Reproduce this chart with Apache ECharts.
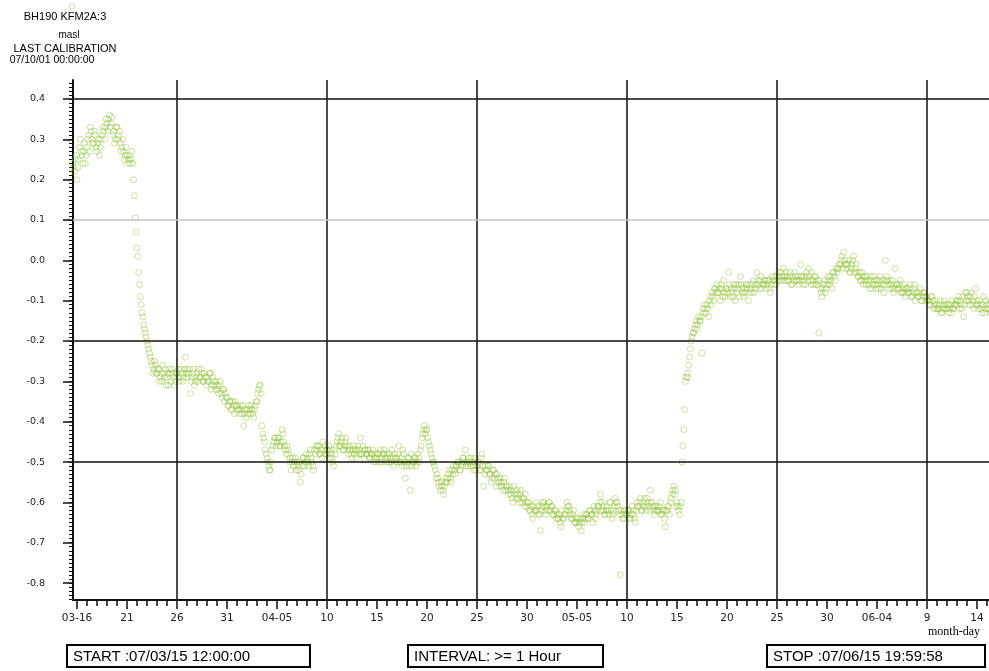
<!DOCTYPE html>
<html>
<head>
<meta charset="utf-8">
<script src="https://cdn.jsdelivr.net/npm/echarts@6/dist/echarts.min.js"></script>
<style>
  html, body { margin: 0; padding: 0; background: #fff; overflow: hidden; }
  #chart { width: 989px; height: 671px; }
</style>
</head>
<body>
<div id="chart"></div>
<script>
// BH190 KFM2A:3 groundwater level (masl), 2-hourly readings.
// Time is measured in days from 2007-03-16 00:00.
// Each month is kept as two blocks: even hours (00,04,..,20) and odd-offset hours (02,06,..,22).
const readingStepDays = 4 / 24;
const oddOffsetDays = 2 / 24;

// 03-15 12:00 .. 03-31 20:00
const marchStart = -0.5;
const marchLevels = [
  0.63, 0.23, 0.25,
  0.20, 0.25, 0.30, 0.26, 0.27, 0.24,
  0.28, 0.31, 0.33, 0.30, 0.29, 0.31,
  0.27, 0.30, 0.28, 0.31, 0.32, 0.33,
  0.34, 0.35, 0.33, 0.355, 0.32, 0.30,
  0.33, 0.31, 0.29, 0.28, 0.27, 0.26,
  0.26, 0.25, 0.24, 0.27, 0.20, 0.105,
  0.03, -0.03, -0.09, -0.13, -0.16, -0.18,
  -0.20, -0.22, -0.24, -0.26, -0.27, -0.26,
  -0.28, -0.27, -0.29, -0.30, -0.28, -0.27,
  -0.29, -0.31, -0.28, -0.27, -0.29, -0.30,
  -0.28, -0.27, -0.29, -0.28, -0.29, -0.24,
  -0.27, -0.28, -0.33, -0.29, -0.27, -0.30,
  -0.28, -0.27, -0.29, -0.28, -0.30, -0.29,
  -0.29, -0.30, -0.28, -0.31, -0.30, -0.32,
  -0.31, -0.33, -0.30, -0.34, -0.32, -0.33,
  -0.34, -0.36, -0.35, -0.37, -0.36, -0.35
];
const marchLevelsOdd = [
  0.24, 0.22, 0.26,
  0.23, 0.28, 0.27, 0.24, 0.29, 0.26,
  0.30, 0.27, 0.32, 0.29, 0.32, 0.28,
  0.29, 0.26, 0.30, 0.33, 0.30, 0.35,
  0.32, 0.36, 0.34, 0.31, 0.29, 0.33,
  0.30, 0.32, 0.27, 0.30, 0.25, 0.28,
  0.24, 0.26, 0.25, 0.24, 0.16, 0.07,
  0.01, -0.06, -0.11, -0.14, -0.17, -0.19,
  -0.21, -0.23, -0.25, -0.28, -0.25, -0.28,
  -0.27, -0.30, -0.28, -0.26, -0.29, -0.31,
  -0.28, -0.27, -0.30, -0.28, -0.31, -0.28,
  -0.29, -0.30, -0.27, -0.30, -0.27, -0.28,
  -0.29, -0.27, -0.30, -0.28, -0.31, -0.29,
  -0.30, -0.29, -0.27, -0.30, -0.28, -0.31,
  -0.30, -0.28, -0.32, -0.29, -0.31, -0.30,
  -0.32, -0.31, -0.33, -0.32, -0.35, -0.34,
  -0.36, -0.35, -0.37, -0.35, -0.38, -0.36
];

// 04-01 00:00 .. 04-30 22:00
const aprilStart = 16;
const aprilLevels = [
  -0.36, -0.37, -0.36, -0.38, -0.41, -0.37,
  -0.37, -0.36, -0.38, -0.37, -0.39, -0.36,
  -0.35, -0.32, -0.31, -0.41, -0.44, -0.47,
  -0.49, -0.51, -0.52, -0.47, -0.45, -0.44,
  -0.45, -0.44, -0.46, -0.42, -0.45, -0.47,
  -0.46, -0.48, -0.49, -0.50, -0.51, -0.49,
  -0.50, -0.52, -0.55, -0.51, -0.49, -0.50,
  -0.49, -0.51, -0.47, -0.50, -0.52, -0.48,
  -0.47, -0.46, -0.48, -0.49, -0.47, -0.46,
  -0.48, -0.46, -0.47, -0.49, -0.51, -0.48,
  -0.45, -0.43, -0.46, -0.44, -0.47, -0.45,
  -0.46, -0.48, -0.47, -0.49, -0.46, -0.47,
  -0.47, -0.48, -0.44, -0.48, -0.49, -0.47,
  -0.48, -0.47, -0.49, -0.48, -0.50, -0.48,
  -0.49, -0.48, -0.47, -0.50, -0.48, -0.49,
  -0.48, -0.50, -0.49, -0.47, -0.51, -0.49,
  -0.49, -0.46, -0.50, -0.51, -0.48, -0.54,
  -0.50, -0.49, -0.57, -0.51, -0.50, -0.49,
  -0.50, -0.49, -0.47, -0.44, -0.42, -0.43,
  -0.42, -0.45, -0.47, -0.49, -0.50, -0.52,
  -0.53, -0.55, -0.57, -0.56, -0.58, -0.55,
  -0.55, -0.53, -0.54, -0.52, -0.51, -0.53,
  -0.51, -0.50, -0.52, -0.50, -0.49, -0.47,
  -0.50, -0.49, -0.51, -0.50, -0.52, -0.49,
  -0.51, -0.50, -0.52, -0.48, -0.56, -0.51,
  -0.52, -0.51, -0.53, -0.54, -0.52, -0.53,
  -0.53, -0.55, -0.54, -0.56, -0.55, -0.57,
  -0.56, -0.58, -0.57, -0.59, -0.56, -0.58,
  -0.57, -0.59, -0.58, -0.60, -0.59, -0.58,
  -0.61, -0.60, -0.62, -0.63, -0.61, -0.62
];
const aprilLevelsOdd = [
  -0.37, -0.38, -0.37, -0.36, -0.38, -0.39,
  -0.38, -0.37, -0.36, -0.38, -0.37, -0.35,
  -0.33, -0.31, -0.33, -0.43, -0.45, -0.48,
  -0.50, -0.52, -0.50, -0.46, -0.44, -0.46,
  -0.44, -0.46, -0.45, -0.43, -0.46, -0.48,
  -0.47, -0.50, -0.52, -0.49, -0.50, -0.52,
  -0.51, -0.50, -0.53, -0.49, -0.51, -0.48,
  -0.50, -0.48, -0.49, -0.51, -0.47, -0.46,
  -0.46, -0.48, -0.47, -0.45, -0.48, -0.47,
  -0.47, -0.49, -0.48, -0.50, -0.47, -0.46,
  -0.44, -0.46, -0.45, -0.47, -0.46, -0.44,
  -0.47, -0.46, -0.48, -0.47, -0.48, -0.49,
  -0.46, -0.47, -0.48, -0.46, -0.47, -0.48,
  -0.47, -0.49, -0.48, -0.47, -0.49, -0.50,
  -0.48, -0.50, -0.49, -0.48, -0.47, -0.50,
  -0.49, -0.48, -0.50, -0.49, -0.48, -0.50,
  -0.48, -0.50, -0.49, -0.47, -0.50, -0.51,
  -0.49, -0.51, -0.48, -0.50, -0.49, -0.51,
  -0.48, -0.50, -0.46, -0.43, -0.41, -0.42,
  -0.44, -0.46, -0.48, -0.50, -0.51, -0.54,
  -0.54, -0.56, -0.55, -0.57, -0.56, -0.54,
  -0.54, -0.52, -0.55, -0.53, -0.52, -0.51,
  -0.50, -0.52, -0.51, -0.49, -0.50, -0.51,
  -0.51, -0.50, -0.49, -0.51, -0.50, -0.52,
  -0.50, -0.52, -0.49, -0.51, -0.53, -0.52,
  -0.51, -0.53, -0.55, -0.52, -0.54, -0.56,
  -0.54, -0.56, -0.55, -0.57, -0.54, -0.56,
  -0.57, -0.56, -0.58, -0.60, -0.57, -0.59,
  -0.58, -0.60, -0.57, -0.59, -0.61, -0.60,
  -0.60, -0.62, -0.61, -0.64, -0.62, -0.60
];

// 05-01 00:00 .. 05-31 22:00
const mayStart = 46;
const mayLevels = [
  -0.62, -0.63, -0.67, -0.61, -0.60, -0.62,
  -0.61, -0.60, -0.62, -0.61, -0.63, -0.62,
  -0.63, -0.64, -0.65, -0.62, -0.64, -0.63,
  -0.60, -0.61, -0.63, -0.64, -0.62, -0.65,
  -0.65, -0.66, -0.64, -0.65, -0.63, -0.64,
  -0.63, -0.64, -0.62, -0.63, -0.61, -0.64,
  -0.62, -0.61, -0.58, -0.60, -0.62, -0.63,
  -0.61, -0.63, -0.60, -0.64, -0.62, -0.59,
  -0.60, -0.62, -0.78, -0.63, -0.64, -0.62,
  -0.63, -0.62, -0.64, -0.61, -0.63, -0.65,
  -0.60, -0.61, -0.59, -0.62, -0.60, -0.61,
  -0.59, -0.61, -0.57, -0.60, -0.62, -0.61,
  -0.61, -0.62, -0.60, -0.63, -0.62, -0.66,
  -0.62, -0.61, -0.60, -0.58, -0.56, -0.57,
  -0.60, -0.62, -0.61, -0.50, -0.42, -0.30,
  -0.28, -0.26, -0.22, -0.19, -0.18, -0.16,
  -0.17, -0.14, -0.15, -0.23, -0.13, -0.12,
  -0.11, -0.14, -0.09, -0.08, -0.10, -0.07,
  -0.06, -0.08, -0.10, -0.07, -0.05, -0.09,
  -0.07, -0.03, -0.09, -0.08, -0.06, -0.10,
  -0.08, -0.06, -0.04, -0.07, -0.09, -0.08,
  -0.07, -0.10, -0.06, -0.08, -0.05, -0.07,
  -0.03, -0.06, -0.05, -0.07, -0.06, -0.05,
  -0.06, -0.05, -0.08, -0.04, -0.06, -0.05,
  -0.04, -0.03, -0.05, -0.04, -0.02, -0.05,
  -0.04, -0.05, -0.03, -0.06, -0.05, -0.04,
  -0.05, -0.06, -0.01, -0.04, -0.05, -0.06,
  -0.04, -0.02, -0.05, -0.03, -0.06, -0.04,
  -0.05, -0.18, -0.07, -0.09, -0.06, -0.08,
  -0.06, -0.05, -0.04, -0.07, -0.03, -0.05,
  -0.03, -0.02, -0.01, 0.01, 0.02, -0.01
];
const mayLevelsOdd = [
  -0.61, -0.63, -0.62, -0.60, -0.61, -0.63,
  -0.62, -0.60, -0.61, -0.63, -0.62, -0.64,
  -0.64, -0.63, -0.66, -0.64, -0.63, -0.62,
  -0.61, -0.62, -0.64, -0.63, -0.65, -0.64,
  -0.64, -0.65, -0.67, -0.64, -0.65, -0.63,
  -0.64, -0.62, -0.63, -0.65, -0.62, -0.63,
  -0.61, -0.60, -0.62, -0.61, -0.63, -0.62,
  -0.62, -0.60, -0.62, -0.63, -0.61, -0.60,
  -0.61, -0.63, -0.62, -0.64, -0.62, -0.63,
  -0.62, -0.64, -0.63, -0.62, -0.64, -0.62,
  -0.61, -0.60, -0.62, -0.61, -0.59, -0.62,
  -0.60, -0.62, -0.60, -0.61, -0.63, -0.62,
  -0.62, -0.61, -0.63, -0.62, -0.64, -0.62,
  -0.61, -0.63, -0.59, -0.57, -0.58, -0.61,
  -0.61, -0.63, -0.60, -0.46, -0.37, -0.29,
  -0.29, -0.24, -0.20, -0.18, -0.17, -0.15,
  -0.16, -0.15, -0.14, -0.12, -0.11, -0.13,
  -0.12, -0.10, -0.11, -0.09, -0.07, -0.08,
  -0.08, -0.07, -0.06, -0.09, -0.08, -0.07,
  -0.08, -0.06, -0.07, -0.09, -0.07, -0.06,
  -0.07, -0.09, -0.06, -0.08, -0.07, -0.06,
  -0.06, -0.08, -0.07, -0.06, -0.08, -0.06,
  -0.05, -0.07, -0.04, -0.06, -0.05, -0.07,
  -0.05, -0.07, -0.06, -0.05, -0.04, -0.06,
  -0.05, -0.04, -0.03, -0.05, -0.04, -0.03,
  -0.05, -0.04, -0.06, -0.04, -0.03, -0.05,
  -0.04, -0.05, -0.04, -0.06, -0.04, -0.03,
  -0.05, -0.04, -0.06, -0.05, -0.04, -0.06,
  -0.06, -0.05, -0.08, -0.07, -0.05, -0.07,
  -0.04, -0.06, -0.05, -0.03, -0.04, -0.02,
  -0.02, -0.01, 0.00, -0.02, 0.00, -0.01
];

// 06-01 00:00 .. 06-15 20:00
const juneStart = 77;
const juneLevels = [
  -0.02, 0.00, -0.03, -0.01, 0.01, -0.02,
  -0.03, -0.04, -0.05, -0.03, -0.06, -0.04,
  -0.04, -0.06, -0.05, -0.07, -0.04, -0.06,
  -0.05, -0.07, -0.04, -0.06, -0.08, 0.00,
  -0.04, -0.06, -0.05, -0.07, -0.08, -0.02,
  -0.06, -0.07, -0.05, -0.08, -0.06, -0.09,
  -0.07, -0.08, -0.06, -0.09, -0.07, -0.10,
  -0.08, -0.09, -0.07, -0.10, -0.08, -0.09,
  -0.09, -0.10, -0.11, -0.09, -0.12, -0.10,
  -0.11, -0.12, -0.10, -0.13, -0.11, -0.12,
  -0.12, -0.13, -0.11, -0.10, -0.12, -0.11,
  -0.11, -0.09, -0.10, -0.12, -0.14, -0.08,
  -0.08, -0.10, -0.09, -0.11, -0.12, -0.07,
  -0.10, -0.12, -0.11, -0.13, -0.09, -0.12,
  -0.11, -0.12, -0.13, -0.10, -0.12, -0.11
];
const juneLevelsOdd = [
  -0.01, -0.03, -0.02, 0.00, -0.03, -0.01,
  -0.04, -0.03, -0.05, -0.04, -0.05, -0.06,
  -0.05, -0.07, -0.04, -0.06, -0.05, -0.07,
  -0.06, -0.05, -0.07, -0.05, -0.06, -0.05,
  -0.05, -0.07, -0.06, -0.05, -0.07, -0.06,
  -0.07, -0.06, -0.08, -0.07, -0.08, -0.07,
  -0.08, -0.07, -0.09, -0.08, -0.06, -0.08,
  -0.09, -0.08, -0.10, -0.09, -0.08, -0.10,
  -0.10, -0.11, -0.09, -0.10, -0.11, -0.12,
  -0.12, -0.11, -0.13, -0.12, -0.10, -0.11,
  -0.11, -0.12, -0.13, -0.12, -0.11, -0.10,
  -0.10, -0.12, -0.11, -0.09, -0.11, -0.10,
  -0.09, -0.11, -0.08, -0.10, -0.09, -0.11,
  -0.11, -0.10, -0.12, -0.11, -0.13, -0.10,
  -0.12, -0.11, -0.10, -0.12, -0.11
];

// Axis ranges and ticks
const xMin = -0.4;
const xMax = 91.833;        // 06-15 20:00
const yMin = -0.842;
const yMax = 0.447;
const xTickDays = [0, 5, 10, 15, 20, 25, 30, 35, 40, 45, 50, 55, 60, 65, 70, 75, 80, 85, 90];
const xTickLabels = ['03-16', '21', '26', '31', '04-05', '10', '15', '20', '25', '30',
                     '05-05', '10', '15', '20', '25', '30', '06-04', '9', '14'];
const yTickValues = [-0.8, -0.7, -0.6, -0.5, -0.4, -0.3, -0.2, -0.1, 0, 0.1, 0.2, 0.3, 0.4];
const dayGridLines = [10, 25, 40, 55, 70, 85];
const levelGridLines = [0.4, -0.2, -0.5];
const faintLevelLines = [0.1];

// Build [day, level] pairs from the reading blocks
function toPoints(start, levels) {
  return levels.map((v, i) => [start + i * readingStepDays, v]);
}
const points = [].concat(
  toPoints(marchStart, marchLevels),
  toPoints(marchStart + oddOffsetDays, marchLevelsOdd),
  toPoints(aprilStart, aprilLevels),
  toPoints(aprilStart + oddOffsetDays, aprilLevelsOdd),
  toPoints(mayStart, mayLevels),
  toPoints(mayStart + oddOffsetDays, mayLevelsOdd),
  toPoints(juneStart, juneLevels),
  toPoints(juneStart + oddOffsetDays, juneLevelsOdd)
);

const minorDayTicks = [];
for (let d = 0; d <= 91; d++) minorDayTicks.push(d);
const minorLevelTicks = [];
for (let k = -84; k <= 44; k++) minorLevelTicks.push(k / 100);

const labelFont = 'Liberation Sans';
const tickFont = 'DejaVu Sans';
const xLabelMap = {};
xTickDays.forEach((d, i) => { xLabelMap[d] = xTickLabels[i]; });

const chart = echarts.init(document.getElementById('chart'), null, { renderer: 'canvas' });

const black = '#111';
const markData = [];
dayGridLines.forEach(d => markData.push({ xAxis: d, lineStyle: { color: black, width: 1.5, type: 'solid' } }));
levelGridLines.forEach(v => markData.push({ yAxis: v, lineStyle: { color: black, width: 1.5, type: 'solid' } }));
faintLevelLines.forEach(v => markData.push({ yAxis: v, lineStyle: { color: '#c4c4c4', width: 1.5, type: 'solid' } }));
markData.push({ yAxis: yMax, lineStyle: { color: black, width: 1.5, type: 'solid' } });

function boxText(x, w, text) {
  return [
    { type: 'rect', shape: { x: x, y: 645, width: w, height: 22 },
      style: { fill: 'none', stroke: '#000', lineWidth: 2 } },
    { type: 'text', x: x + 6, y: 657,
      style: { text: text, font: '15px ' + labelFont, fill: '#000', verticalAlign: 'middle' } }
  ];
}

chart.setOption({
  animation: false,
  backgroundColor: '#fff',
  grid: {
    left: 73, top: 80, width: 922.3, height: 520,
    outerBoundsMode: 'none', containLabel: false
  },
  xAxis: [
    {
      type: 'value', min: xMin, max: xMax, position: 'bottom',
      axisLine: { show: true, onZero: false, lineStyle: { color: black, width: 2 } },
      axisTick: { show: true, customValues: xTickDays, length: 9, lineStyle: { color: black, width: 1.5 } },
      axisLabel: {
        show: true, customValues: xTickDays, margin: 13,
        fontFamily: tickFont, fontSize: 10.5, color: '#222',
        formatter: v => xLabelMap[Math.round(v)] || ''
      },
      splitLine: { show: false }
    },
    {
      type: 'value', min: xMin, max: xMax, position: 'bottom',
      axisLine: { show: false, onZero: false },
      axisTick: { show: true, customValues: minorDayTicks, length: 6, lineStyle: { color: black, width: 1.5 } },
      axisLabel: { show: false },
      splitLine: { show: false }
    }
  ],
  yAxis: [
    {
      type: 'value', min: yMin, max: yMax, position: 'left',
      axisLine: { show: true, onZero: false, lineStyle: { color: black, width: 2 } },
      axisTick: { show: true, customValues: yTickValues, length: 10, lineStyle: { color: black, width: 1.5 } },
      axisLabel: {
        show: true, customValues: yTickValues, margin: 28,
        fontFamily: tickFont, fontSize: 9.5, color: '#222',
        formatter: v => (Math.abs(v) < 1e-9 ? '0.0' : v.toFixed(1))
      },
      splitLine: { show: false }
    },
    {
      type: 'value', min: yMin, max: yMax, position: 'left',
      axisLine: { show: false, onZero: false },
      axisTick: { show: true, customValues: minorLevelTicks, length: 4, lineStyle: { color: black, width: 1 } },
      axisLabel: { show: false },
      splitLine: { show: false }
    }
  ],
  series: [
    {
      name: 'BH190 KFM2A:3',
      type: 'scatter',
      xAxisIndex: 0, yAxisIndex: 0,
      data: points,
      symbol: 'circle',
      symbolSize: 6,
      clip: false,
      itemStyle: { color: 'rgba(0,0,0,0)', borderColor: 'rgba(140,192,40,0.55)', borderWidth: 1 },
      markLine: {
        silent: true, symbol: ['none', 'none'], label: { show: false },
        data: markData
      }
    }
  ],
  graphic: [
    { type: 'text', x: 65, y: 17, style: { text: 'BH190 KFM2A:3', font: '11px ' + labelFont, fill: '#000', align: 'center', verticalAlign: 'middle' } },
    { type: 'text', x: 69, y: 35, style: { text: 'masl', font: '10px ' + labelFont, fill: '#000', align: 'center', verticalAlign: 'middle' } },
    { type: 'text', x: 65, y: 49, style: { text: 'LAST CALIBRATION', font: '11px ' + labelFont, fill: '#000', align: 'center', verticalAlign: 'middle' } },
    { type: 'text', x: 52, y: 60, style: { text: '07/10/01 00:00:00', font: '10.5px ' + labelFont, fill: '#000', align: 'center', verticalAlign: 'middle' } },
    { type: 'text', x: 954, y: 632, style: { text: 'month-day', font: '12px Liberation Serif', fill: '#000', align: 'center', verticalAlign: 'middle' } }
  ].concat(
    boxText(67, 243, 'START :07/03/15 12:00:00'),
    boxText(408, 195, 'INTERVAL: >= 1 Hour'),
    boxText(767, 218, 'STOP :07/06/15 19:59:58')
  )
});
</script>
</body>
</html>
